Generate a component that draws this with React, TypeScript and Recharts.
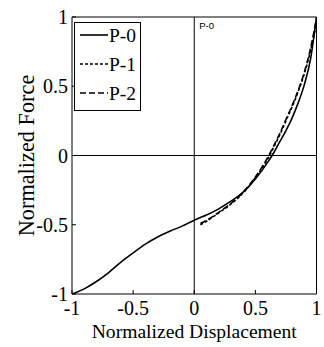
import { LineChart, Line, XAxis, YAxis, ReferenceLine, Legend } from "recharts"

// normalized displacement samples (shared x)
const displacement = [
  -1, -0.9, -0.8, -0.7, -0.6, -0.5, -0.4, -0.3, -0.2, -0.1, 0, 0.05, 0.1, 0.2, 0.3, 0.4, 0.5, 0.6,
  0.65, 0.7, 0.75, 0.8, 0.85, 0.9, 0.95, 1,
]
const forceP0 = [
  -1, -0.963, -0.91, -0.845, -0.77, -0.703, -0.64, -0.588, -0.547, -0.51, -0.467, -0.448, -0.43,
  -0.385, -0.33, -0.265, -0.17, -0.05, 0.02, 0.1, 0.18, 0.27, 0.38, 0.51, 0.69, 1,
]
const forceP1 = [
  null, null, null, null, null, null, null, null, null, null, null, -0.5, -0.475, -0.415, -0.35,
  -0.27, -0.16, -0.025, 0.06, 0.15, 0.25, 0.35, 0.46, 0.59, 0.75, 0.96,
]
const forceP2 = [
  null, null, null, null, null, null, null, null, null, null, null, -0.49, -0.468, -0.41, -0.345,
  -0.265, -0.155, -0.015, 0.07, 0.16, 0.26, 0.36, 0.47, 0.6, 0.77, 0.99,
]
const axisTicks = [-1, -0.5, 0, 0.5, 1]
const seriesNames = ["P-0", "P-1", "P-2"]
const seriesKeys = ["p0", "p1", "p2"]
const seriesDash = [undefined, "3 2", "6 3"]

const data = displacement.map((x, i) => ({ x, p0: forceP0[i], p1: forceP1[i], p2: forceP2[i] }))

const serif = "Liberation Serif, DejaVu Serif, serif"

function LegendBox() {
  return (
    <svg width={67} height={89} style={{ display: "block" }}>
      <rect x={0.5} y={0.5} width={66} height={88} fill="#fff" stroke="#000" />
      {seriesNames.map((name, i) => (
        <g key={name}>
          <line
            x1={6}
            x2={34}
            y1={13 + i * 29}
            y2={13 + i * 29}
            stroke="#000"
            strokeWidth={1.6}
            strokeDasharray={seriesDash[i]}
          />
          <text x={35} y={13 + i * 29} dy="0.35em" style={{ fontFamily: serif }} fontSize={19.5} fill="#000">
            {name}
          </text>
        </g>
      ))}
    </svg>
  )
}

export default function App() {
  const tickStyle = { fill: "#000", fontSize: 20, fontFamily: serif, style: { fontFamily: serif } }
  return (
    <div>
      <style>{`body{margin:0;background:#fff} svg text{font-family:"Liberation Serif","DejaVu Serif",serif}`}</style>
      <LineChart width={324} height={347} data={data} margin={{ top: 16, right: 6.5, left: 0, bottom: 0 }}>
        <XAxis
          dataKey="x"
          type="number"
          domain={[-1, 1]}
          ticks={axisTicks}
          allowDataOverflow
          height={53}
          stroke="#000"
          tickSize={-4}
          tickMargin={10.5}
          tick={tickStyle}
          label={{
            value: "Normalized Displacement",
            position: "insideBottom",
            offset: 9.5,
            fill: "#000",
            fontSize: 19.6,
          }}
        />
        <XAxis
          xAxisId="top"
          orientation="top"
          dataKey="x"
          type="number"
          domain={[-1, 1]}
          ticks={axisTicks}
          allowDataOverflow
          height={1}
          stroke="#000"
          tickSize={-4}
          tick={false}
        />
        <YAxis
          type="number"
          domain={[-1, 1]}
          ticks={axisTicks}
          allowDataOverflow
          width={72}
          stroke="#000"
          tickSize={-4}
          tickMargin={8}
          tick={tickStyle}
          label={{
            content: ({ viewBox }: any) => {
              const cx = viewBox.x + 26
              const cy = viewBox.y + viewBox.height / 2
              return (
                <text
                  x={cx}
                  y={cy}
                  transform={`rotate(-90, ${cx}, ${cy})`}
                  textAnchor="middle"
                  dy="0.35em"
                  fontSize={22.3}
                  fill="#000"
                >
                  Normalized Force
                </text>
              )
            },
          }}
        />
        <YAxis
          yAxisId="right"
          orientation="right"
          type="number"
          domain={[-1, 1]}
          ticks={axisTicks}
          allowDataOverflow
          width={1}
          stroke="#000"
          tickSize={-4}
          tick={false}
        />
        <ReferenceLine
          x={0}
          stroke="#000"
          label={{
            value: "P-0",
            position: "insideTopLeft",
            offset: 5,
            fontSize: 9.5,
            fill: "#000",
            style: { fontFamily: "Liberation Sans, Arial, sans-serif" },
          }}
        />
        <ReferenceLine y={0} stroke="#000" />
        {seriesKeys.map((key, i) => (
          <Line
            key={key}
            type="monotone"
            dataKey={key}
            name={seriesNames[i]}
            stroke="#000"
            strokeWidth={1.6}
            strokeDasharray={seriesDash[i]}
            dot={false}
            isAnimationActive={false}
          />
        ))}
        <Legend
          layout="vertical"
          align="center"
          verticalAlign="middle"
          wrapperStyle={{ top: 22, left: 74, width: 67, height: 89 }}
          content={() => <LegendBox />}
        />
      </LineChart>
    </div>
  )
}
